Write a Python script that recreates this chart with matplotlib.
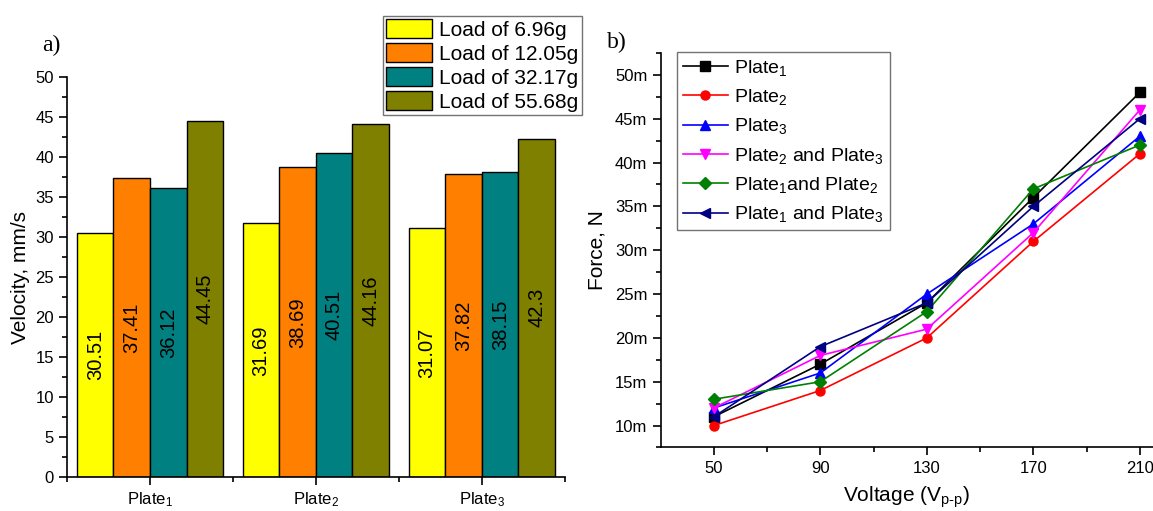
import matplotlib
matplotlib.use("Agg")
import matplotlib.pyplot as plt
import numpy as np
from matplotlib.ticker import MultipleLocator, FixedLocator, FuncFormatter

plt.rcParams['font.family'] = ['Liberation Sans', 'DejaVu Sans']
plt.rcParams['mathtext.fontset'] = 'custom'
plt.rcParams['mathtext.rm'] = 'Liberation Sans'
plt.rcParams['mathtext.default'] = 'regular'

# ---- panel a) data ----
plates = ["Plate$_1$", "Plate$_2$", "Plate$_3$"]
loads = ["Load of 6.96g", "Load of 12.05g", "Load of 32.17g", "Load of 55.68g"]
load_696 = [30.51, 31.69, 31.07]
load_1205 = [37.41, 38.69, 37.82]
load_3217 = [36.12, 40.51, 38.15]
load_5568 = [44.45, 44.16, 42.3]
bar_colors = ["#FFFF00", "#FF8000", "#008080", "#808000"]

# ---- panel b) data (mN) ----
voltage = [50, 90, 130, 170, 210]
plate1 = [11, 17, 24, 36, 48]
plate2 = [10, 14, 20, 31, 41]
plate3 = [12, 16, 25, 33, 43]
plate23 = [12, 18, 21, 32, 46]
plate12 = [13, 15, 23, 37, 42]
plate13 = [11, 19, 24, 35, 45]
series_names = ["Plate$_1$", "Plate$_2$", "Plate$_3$", "Plate$_2$ and Plate$_3$",
                "Plate$_1$and Plate$_2$", "Plate$_1$ and Plate$_3$"]
line_colors = ["#000000", "#FF0000", "#0000FF", "#FF00FF", "#008000", "#000080"]
markers = ["s", "o", "^", "v", "D", "<"]

fig = plt.figure(figsize=(11.53, 5.11), dpi=100)

# ================= a) =================
ax1 = fig.add_axes([0.0581, 0.0665, 0.4319, 0.7828])
x = np.arange(len(plates))
w = 0.22
for i, (vals, lab, c) in enumerate(zip([load_696, load_1205, load_3217, load_5568], loads, bar_colors)):
    bars = ax1.bar(x + (i - 1.5) * w, vals, w, color=c, edgecolor='black', lw=1.0, label=lab)
    ax1.bar_label(bars, labels=[f"{v:g}" for v in vals], label_type='center',
                  rotation=90, fontsize=14.5)

ax1.set_xlim(-0.5, 2.5)
ax1.set_ylim(0, 50)
ax1.yaxis.set_major_locator(MultipleLocator(5))
ax1.yaxis.set_minor_locator(MultipleLocator(2.5))
ax1.set_xticks(x)
ax1.set_xticklabels(plates, fontsize=12)
ax1.xaxis.set_minor_locator(FixedLocator([-0.5, 0.5, 1.5, 2.5]))
ax1.tick_params(axis='y', labelsize=12)
ax1.tick_params(which='major', length=6, width=1.2)
ax1.tick_params(which='minor', length=3.5, width=1.2)
ax1.set_ylabel("Velocity, mm/s", fontsize=15, labelpad=4)
for s in ["top", "right"]:
    ax1.spines[s].set_visible(False)
for s in ["left", "bottom"]:
    ax1.spines[s].set_linewidth(1.2)

ax1.legend(loc='upper left', bbox_to_anchor=(383 / 1153, 1 - 16 / 511),
           bbox_transform=fig.transFigure, borderaxespad=0, fancybox=False,
           edgecolor='0.45', fontsize=15, handlelength=2.2, handleheight=1.05,
           labelspacing=0.15, handletextpad=0.35, borderpad=0.15, framealpha=1)
fig.text(42 / 1153, 1 - 45 / 511, "a)", fontsize=17, family='Liberation Serif',
         ha='left', va='center')

# ================= b) =================
ax2 = fig.add_axes([0.5729, 0.1243, 0.4272, 0.772])
for vals, lab, c, m in zip([plate1, plate2, plate3, plate23, plate12, plate13],
                           series_names, line_colors, markers):
    ax2.plot(voltage, vals, color=c, marker=m, ms=6.5, lw=1.2, label=lab)

ax2.set_xlim(30, 215)
ax2.set_ylim(7.5, 52.5)
ax2.xaxis.set_major_locator(FixedLocator(voltage))
ax2.xaxis.set_minor_locator(FixedLocator([70, 110, 150, 190]))
ax2.yaxis.set_major_locator(MultipleLocator(5))
ax2.yaxis.set_minor_locator(MultipleLocator(2.5))
ax2.yaxis.set_major_formatter(FuncFormatter(lambda v, p: f"{v:g}m"))
ax2.tick_params(labelsize=12)
ax2.tick_params(which='major', length=6, width=1.2)
ax2.tick_params(which='minor', length=3.5, width=1.2)
ax2.set_xlabel(r"Voltage (V$_{p\text{-}p}$)", fontsize=15, labelpad=6)
ax2.set_ylabel("Force, N", fontsize=15, labelpad=6)
for s in ["top", "right"]:
    ax2.spines[s].set_visible(False)
for s in ["left", "bottom"]:
    ax2.spines[s].set_linewidth(1.2)

ax2.legend(loc='upper left', bbox_to_anchor=(677 / 1153, 1 - 52 / 511),
           bbox_transform=fig.transFigure, borderaxespad=0, fancybox=False,
           edgecolor='0.45', fontsize=14, handlelength=2.3, handletextpad=0.35,
           labelspacing=0.48, borderpad=0.3, framealpha=1)
fig.text(607 / 1153, 1 - 42 / 511, "b)", fontsize=17, family='Liberation Serif',
         ha='left', va='center')

fig.savefig("out.png", dpi=100)
